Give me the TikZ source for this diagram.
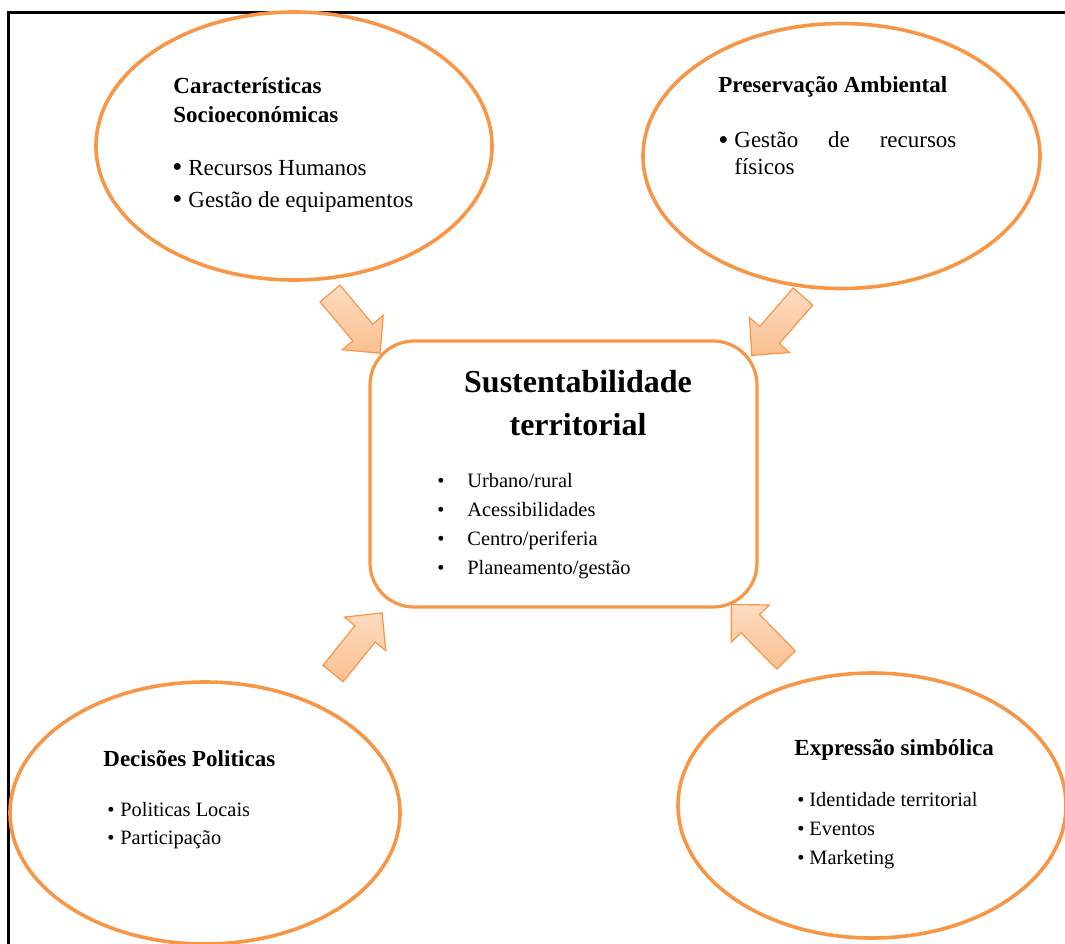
\documentclass[tikz,border=0pt]{standalone}
\usepackage{fontspec}
\setmainfont{Liberation Serif}
\usetikzlibrary{shapes.geometric}

\definecolor{laranja}{HTML}{F79646}
\definecolor{pessego}{HTML}{FAC090}
\definecolor{pessegoclaro}{HTML}{FDDCC2}

\newcommand{\topico}[2][6pt]{\makebox[#1][l]{\textbullet}#2}
\newcommand{\topicog}[1]{\makebox[8pt][l]{\raisebox{-0.08em}{\scalebox{1.25}{\textbullet}}}#1}

\tikzset{
  elipse/.style={ellipse, draw=laranja, line width=1.8pt, inner sep=0pt},
  caixa/.style={rectangle, rounded corners=22pt, draw=laranja, line width=1.6pt, inner sep=0pt},
  titulo/.style={font=\fontsize{11.5}{14.5}\selectfont\bfseries, align=left, inner sep=0pt, anchor=west},
  lista/.style={align=left, inner sep=0pt, anchor=west},
  setaestilo/.style={draw=laranja, line width=0.6pt, top color=pessegoclaro, bottom color=pessego, line join=miter},
  pics/seta/.style={code={
    \draw[setaestilo] (0pt,-6.5pt) -- (25.5pt,-6.5pt) -- (25.5pt,-13.3pt) -- (39pt,0pt)
      -- (25.5pt,13.3pt) -- (25.5pt,6.5pt) -- (0pt,6.5pt) -- cycle;}}
}

\begin{document}
\begin{tikzpicture}[x=0.5pt, y=-0.5pt]
  \useasboundingbox (0,0) rectangle (1065,943);

  % Moldura
  \draw[line width=1.5pt] (8,950) -- (8,12) -- (1070,12);

  % Setas para o centro
  \pic[rotate=-50] at (330,293.5) {seta};
  \pic[rotate=-131] at (803,296.5) {seta};
  \pic[rotate=51] at (333,673.5) {seta};
  \pic[rotate=134.5] at (786,660) {seta};

  % Caixa central
  \node[caixa, minimum width=193.5pt, minimum height=133pt] (sust) at (563.5,474) {};
  \node[font=\fontsize{16}{21.5}\selectfont\bfseries, align=center, inner sep=0pt] (sust-t) at (578,403.5) {Sustentabilidade\\territorial};
  \node[lista, font=\fontsize{10.2}{14.5}\selectfont] (sust-l) at (437,526)
    {\topico[15pt]{Urbano/rural}\\\topico[15pt]{Acessibilidades}\\\topico[15pt]{Centro/periferia}\\\topico[15pt]{Planeamento/gestão}};

  % Caracteristicas socioeconomicas
  \node[elipse, minimum width=198pt, minimum height=134pt] (carac) at (294,146) {};
  \node[titulo] (carac-t) at (173,100.5) {Características\\Socioeconómicas};
  \node[lista, font=\fontsize{11.5}{16}\selectfont] (carac-l) at (172,186)
    {\topicog{Recursos Humanos}\\\topicog{Gestão de equipamentos}};

  % Preservacao ambiental
  \node[elipse, minimum width=198.5pt, minimum height=132.5pt] (preserv) at (841.5,156) {};
  \node[titulo] (preserv-t) at (718,87) {Preservação Ambiental};
  \node[lista, font=\fontsize{11.5}{13.5}\selectfont] (preserv-l) at (718,153.5)
    {\topicog{\makebox[111pt][s]{Gestão de recursos}}\\\hspace*{8pt}físicos};

  % Decisoes politicas
  \node[elipse, minimum width=195pt, minimum height=131pt] (decis) at (205,813) {};
  \node[titulo] (decis-t) at (103,759) {Decisões Politicas};
  \node[lista, font=\fontsize{10.2}{14}\selectfont] (decis-l) at (107,826)
    {\topico[6.5pt]{Politicas Locais}\\\topico[6.5pt]{Participação}};

  % Expressao simbolica
  \node[elipse, minimum width=194pt, minimum height=132.5pt] (expres) at (872,805.5) {};
  \node[titulo] (expres-t) at (794,750) {Expressão simbólica};
  \node[lista, font=\fontsize{10.2}{14.5}\selectfont] (expres-l) at (797,831)
    {\topico{Identidade territorial}\\\topico{Eventos}\\\topico{Marketing}};
\end{tikzpicture}
\end{document}
